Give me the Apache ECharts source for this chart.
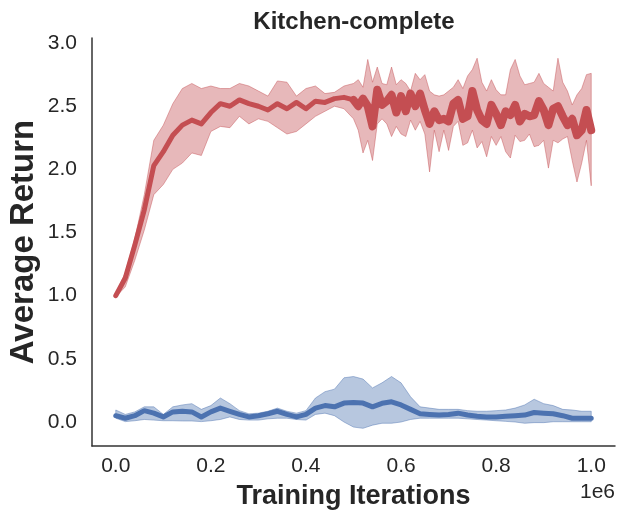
<!DOCTYPE html>
<html>
<head>
<meta charset="utf-8">
<script src="https://cdn.jsdelivr.net/npm/echarts@6/dist/echarts.min.js"></script>
<style>
  html, body { margin: 0; padding: 0; background: #fff; }
  #chart { width: 623px; height: 522px; }
</style>
</head>
<body>
<div id="chart"></div>
<script>
// red run: logged every 20k steps up to 500k, then every 10k
var redEarlyStep = 20000;
var redLateStep = 10000;
var redSwitch = 25;
var redMean = [
  1.00, 1.14, 1.40, 1.68, 2.03, 2.14, 2.27, 2.35, 2.39, 2.36, 2.45, 2.52, 2.50,
  2.55, 2.52, 2.50, 2.47, 2.52, 2.48, 2.53, 2.48, 2.54, 2.53, 2.56, 2.57, 2.55,
  2.50, 2.56, 2.50, 2.34, 2.63, 2.51, 2.54, 2.59, 2.45, 2.58,
  2.46, 2.60, 2.50, 2.60, 2.47, 2.36, 2.46, 2.39, 2.40, 2.38,
  2.52, 2.55, 2.40, 2.42, 2.62, 2.47, 2.39, 2.36, 2.51, 2.44,
  2.35, 2.46, 2.43, 2.51, 2.38, 2.44, 2.42, 2.43, 2.54, 2.47,
  2.35, 2.48, 2.50, 2.42, 2.35, 2.40, 2.27, 2.31, 2.47, 2.31
];
var redHigh = [
  1.02, 1.18, 1.45, 1.80, 2.23, 2.35, 2.52, 2.64, 2.68, 2.64, 2.66, 2.64, 2.64,
  2.68, 2.66, 2.62, 2.58, 2.70, 2.69, 2.58, 2.64, 2.66, 2.60, 2.61, 2.66, 2.68,
  2.71, 2.65, 2.87, 2.69, 2.81, 2.68, 2.67, 2.81, 2.67, 2.71,
  2.68, 2.62, 2.76, 2.71, 2.75, 2.62, 2.59, 2.58, 2.59, 2.62,
  2.65, 2.71, 2.64, 2.74, 2.79, 2.88, 2.69, 2.62, 2.71, 2.63,
  2.59, 2.59, 2.79, 2.87, 2.74, 2.67, 2.68, 2.69, 2.76, 2.68,
  2.65, 2.62, 2.88, 2.69, 2.62, 2.51, 2.59, 2.64, 2.75, 2.76
];
var redLow = [
  0.99, 1.07, 1.28, 1.52, 1.80, 1.88, 2.00, 2.05, 2.13, 2.11, 2.30, 2.34, 2.33,
  2.42, 2.36, 2.40, 2.38, 2.33, 2.28, 2.30, 2.36, 2.42, 2.46, 2.50, 2.48, 2.40,
  2.31, 2.13, 2.23, 2.07, 2.36, 2.40, 2.36, 2.26, 2.34, 2.28,
  2.26, 2.39, 2.31, 2.38, 2.28, 1.98, 2.31, 2.14, 2.31, 2.15,
  2.34, 2.38, 2.19, 2.21, 2.31, 2.17, 2.22, 2.10, 2.26, 2.19,
  2.26, 2.14, 2.09, 2.27, 2.22, 2.23, 2.28, 2.18, 2.19, 2.23,
  2.01, 2.23, 2.21, 2.24, 2.26, 2.07, 1.90, 2.05, 2.23, 1.87
];

// blue run: logged every 20k steps
var blueStep = 20000;
var blueMean = [
  0.05, 0.03, 0.05, 0.09, 0.07, 0.04, 0.08, 0.085, 0.08, 0.04, 0.08, 0.11, 0.085,
  0.06, 0.04, 0.05, 0.065, 0.085, 0.06, 0.04, 0.06, 0.11, 0.13, 0.12, 0.15, 0.155,
  0.15, 0.12, 0.148, 0.16, 0.135, 0.10, 0.065, 0.06, 0.055, 0.06, 0.07, 0.055,
  0.045, 0.04, 0.04, 0.045, 0.05, 0.055, 0.075, 0.07, 0.065, 0.05, 0.03, 0.03, 0.03
];
var blueHigh = [
  0.095, 0.06, 0.08, 0.12, 0.12, 0.06, 0.12, 0.135, 0.145, 0.10, 0.13, 0.19, 0.145,
  0.09, 0.065, 0.07, 0.085, 0.11, 0.085, 0.07, 0.09, 0.19, 0.24, 0.26, 0.35, 0.36,
  0.34, 0.27, 0.31, 0.36, 0.31, 0.20, 0.12, 0.11, 0.10, 0.10, 0.10, 0.09,
  0.085, 0.085, 0.09, 0.095, 0.11, 0.135, 0.18, 0.145, 0.13, 0.10, 0.095, 0.085, 0.085
];
var blueLow = [
  0.03, 0.003, 0.01, 0.02, 0.015, 0.01, 0.01, 0.008, 0.008, 0.003, 0.01, 0.02, 0.04,
  0.02, 0.015, 0.015, 0.025, 0.03, 0.03, 0.02, 0.015, 0.06, 0.07, 0.05, 0.0, -0.04,
  -0.05, -0.025, -0.01, -0.01, 0.0, 0.02, 0.03, 0.03, 0.03, 0.03, 0.03, 0.025,
  0.02, 0.015, 0.01, 0.005, 0.0, -0.01, -0.005, -0.005, 0.002, 0.002, 0.002, 0.002, 0.002
];

var xTicks = [0, 200000, 400000, 600000, 800000, 1000000];
var yTicks = [0, 0.5, 1.0, 1.5, 2.0, 2.5, 3.0];

var RED = '#C44E52';
var BLUE = '#4C72B0';
var FONT = 'Liberation Sans, Arial, sans-serif';
var TXT = '#262626';

function redX (i) {
  if (i <= redSwitch) return i * redEarlyStep;
  return redSwitch * redEarlyStep + (i - redSwitch) * redLateStep;
}

function blueX (i) {
  return i * blueStep;
}

function pairs (xf, vals) {
  return vals.map(function (v, i) { return [xf(i), v]; });
}

// fill_between: one polygon, upper edge forward then lower edge back
function bandSeries (name, xf, low, high, edge, fill) {
  var data = low.map(function (l, i) { return [xf(i), l, high[i]]; });

  return {
    name: name + '-band',
    type: 'custom',
    silent: true,
    z: 1,
    encode: { x: 0, y: [1, 2] },
    data: data,
    renderItem: function (params, api) {
      if (params.dataIndex !== 0) return null;
      let pts = [];

      data.forEach(function (d) { pts.push(api.coord([d[0], d[2]])); });
      for (let i = data.length - 1; i >= 0; i--) {
        pts.push(api.coord([data[i][0], data[i][1]]));
      }
      return {
        type: 'polygon',
        shape: { points: pts },
        style: { fill: fill, stroke: edge, lineWidth: 1 }
      };
    }
  };
}

var redPairs = pairs(redX, redMean);

var myChart = echarts.init(document.getElementById('chart'), null, { renderer: 'canvas' });

myChart.setOption({
  animation: false,
  backgroundColor: '#ffffff',
  title: {
    text: 'Kitchen-complete',
    left: 349,
    top: 5,
    textAlign: 'center',
    textStyle: { fontFamily: FONT, fontWeight: 'bold', fontSize: 24, color: TXT }
  },
  grid: { left: 92, right: 8, top: 38, bottom: 76, containLabel: false, outerBoundsMode: 'none' },
  xAxis: {
    type: 'value',
    min: -50000,
    max: 1050000,
    name: 'Training Iterations',
    nameLocation: 'middle',
    nameGap: 37,
    nameTextStyle: { fontFamily: FONT, fontWeight: 'bold', fontSize: 27, color: TXT },
    axisLine: { show: true, onZero: false, lineStyle: { color: '#333333', width: 1.5 } },
    axisTick: { show: false },
    splitLine: { show: false },
    axisLabel: {
      customValues: xTicks,
      margin: 10,
      fontFamily: FONT,
      fontSize: 21,
      color: TXT,
      formatter: function (v) { return (v / 1e6).toFixed(1); }
    }
  },
  yAxis: {
    type: 'value',
    min: -0.19,
    max: 3.04,
    name: 'Average Return',
    nameLocation: 'middle',
    nameRotate: 90,
    nameGap: 52,
    nameMoveOverlap: false,
    nameTextStyle: { fontFamily: FONT, fontWeight: 'bold', fontSize: 33, color: TXT },
    axisLine: { show: true, onZero: false, lineStyle: { color: '#333333', width: 1.5 } },
    axisTick: { show: false },
    splitLine: { show: false },
    axisLabel: {
      customValues: yTicks,
      margin: 15,
      fontFamily: FONT,
      fontSize: 21,
      color: TXT,
      formatter: function (v) { return v.toFixed(1); }
    }
  },
  graphic: [
    {
      type: 'text',
      right: 8,
      top: 482,
      style: { text: '1e6', font: '21px ' + FONT, fill: TXT }
    }
  ],
  series: [
    bandSeries('red', redX, redLow, redHigh, 'rgba(196,78,82,0.45)', 'rgba(196,78,82,0.4)'),
    bandSeries('blue', blueX, blueLow, blueHigh, 'rgba(76,114,176,0.45)', 'rgba(76,114,176,0.4)'),
    {
      name: 'red',
      type: 'line',
      symbol: 'none',
      lineStyle: { width: 5, color: RED, join: 'round', cap: 'round' },
      data: redPairs.slice(0, redSwitch + 1),
      z: 3
    },
    {
      // densely logged part reads as a heavier stroke
      name: 'red-dense',
      type: 'line',
      symbol: 'none',
      lineStyle: { width: 8, color: RED, join: 'round', cap: 'round' },
      data: redPairs.slice(redSwitch),
      z: 3
    },
    {
      name: 'blue',
      type: 'line',
      symbol: 'none',
      lineStyle: { width: 5, color: BLUE, join: 'round', cap: 'round' },
      data: pairs(blueX, blueMean),
      z: 3
    }
  ]
});
</script>
</body>
</html>
